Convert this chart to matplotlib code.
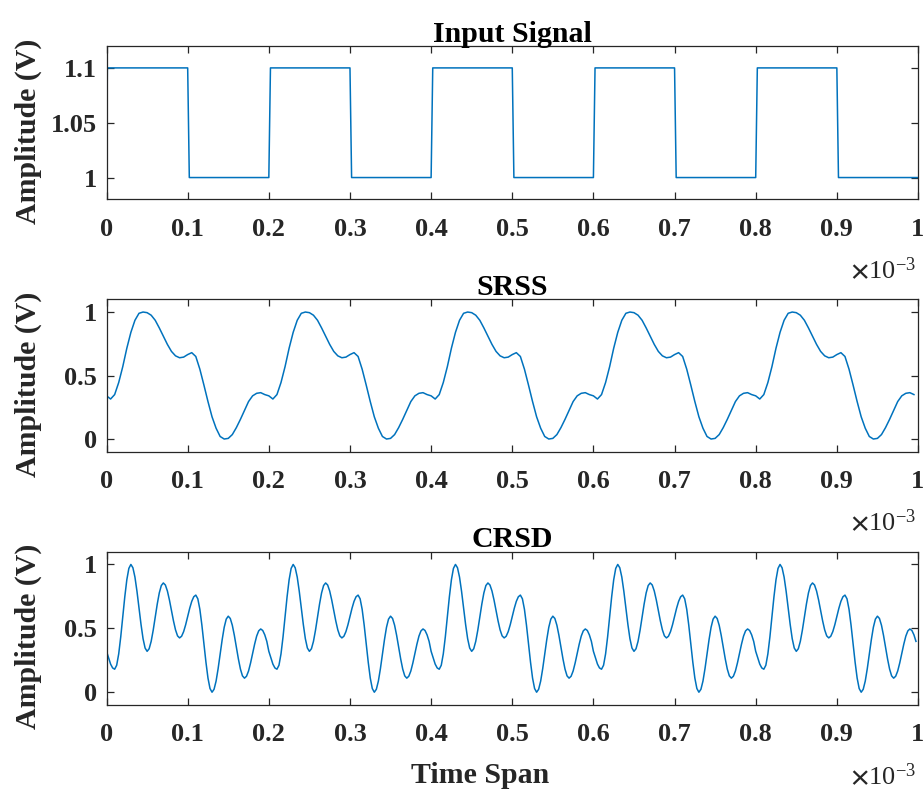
import numpy as np
import matplotlib
matplotlib.use("Agg")
import matplotlib.pyplot as plt

# ==========================================================
# DATA  (time in units of 1e-3 s)
# ==========================================================

# input square wave, corner points
sq_t = [0.0, 0.001, 0.1, 0.102, 0.2, 0.202, 0.3, 0.302, 0.4, 0.402,
        0.5, 0.502, 0.6, 0.602, 0.7, 0.702, 0.8, 0.802, 0.9, 0.902, 1.0]
sq_v = [1.0, 1.1, 1.1, 1.0, 1.0, 1.1, 1.1, 1.0, 1.0, 1.1,
        1.1, 1.0, 1.0, 1.1, 1.1, 1.0, 1.0, 1.1, 1.1, 1.0, 1.0]

# SRSS, one 0.2 period read every 0.005
srss_period = [0.34, 0.315, 0.35, 0.445, 0.57, 0.715, 0.84, 0.935, 0.99, 1.0,
               0.995, 0.975, 0.935, 0.875, 0.81, 0.745, 0.69, 0.655, 0.64, 0.645,
               0.665, 0.68, 0.65, 0.55, 0.425, 0.295, 0.175, 0.085, 0.02, 0.0,
               0.005, 0.035, 0.09, 0.155, 0.225, 0.295, 0.34, 0.36, 0.365, 0.35]

# CRSD, one 0.2 period read every 0.0025
crsd_period = [0.32, 0.27, 0.22, 0.19, 0.18, 0.211, 0.30, 0.433, 0.59, 0.747,
               0.88, 0.969, 1.0, 0.974, 0.901, 0.79, 0.66, 0.53, 0.419, 0.346,
               0.32, 0.34, 0.398, 0.485, 0.588, 0.69, 0.777, 0.835, 0.855, 0.839,
               0.792, 0.722, 0.64, 0.558, 0.488, 0.441, 0.425, 0.438, 0.474, 0.528,
               0.593, 0.657, 0.711, 0.747, 0.76, 0.731, 0.649, 0.525, 0.38, 0.235,
               0.111, 0.029, 0.0, 0.023, 0.087, 0.184, 0.2975, 0.411, 0.508, 0.572,
               0.595, 0.577, 0.524, 0.445, 0.3525, 0.26, 0.181, 0.128, 0.11, 0.125,
               0.166, 0.229, 0.3025, 0.376, 0.439, 0.48, 0.495, 0.483, 0.449, 0.398]

N_PERIODS = 5

srss_v = np.tile(srss_period, N_PERIODS)
srss_t = np.arange(len(srss_v)) * 0.005

crsd_v = np.tile(crsd_period, N_PERIODS)
crsd_t = np.arange(len(crsd_v)) * 0.0025

titles = ["Input Signal", "SRSS", "CRSD"]
x_ticks = [0, 0.1, 0.2, 0.3, 0.4, 0.5, 0.6, 0.7, 0.8, 0.9, 1]
x_ticklabels = ["0", "0.1", "0.2", "0.3", "0.4", "0.5", "0.6", "0.7", "0.8", "0.9", "1"]

# ==========================================================
# STYLE
# ==========================================================

plt.rcParams["font.family"] = ["Liberation Serif", "DejaVu Serif"]
plt.rcParams["mathtext.fontset"] = "stix"
plt.rcParams["font.weight"] = "bold"

LINE_COLOR = "#0072BD"
AX_COLOR = "#262626"

fig = plt.figure(figsize=(9.24, 7.9), dpi=100)

rects = [
    [0.1153, 0.7475, 0.8782, 0.1943],
    [0.1153, 0.4282, 0.8782, 0.1929],
    [0.1153, 0.1076, 0.8782, 0.1941],
]

axes = [fig.add_axes(r) for r in rects]

axes[0].plot(sq_t, sq_v, color=LINE_COLOR, linewidth=1.1)
axes[1].plot(srss_t, srss_v, color=LINE_COLOR, linewidth=1.1)
axes[2].plot(crsd_t, crsd_v, color=LINE_COLOR, linewidth=1.1)

# ==========================================================
# SETTINGS
# ==========================================================

for i, ax in enumerate(axes):

    ax.set_xlim(0, 1)
    ax.set_xticks(x_ticks)
    ax.set_xticklabels(x_ticklabels)

    if i == 0:
        ax.set_ylim(0.98, 1.12)
        ax.set_yticks([1, 1.05, 1.1])
        ax.set_yticklabels(["1", "1.05", "1.1"])
    else:
        ax.set_ylim(-0.1, 1.1)
        ax.set_yticks([0, 0.5, 1])
        ax.set_yticklabels(["0", "0.5", "1"])

    ax.tick_params(
        direction="in",
        length=5,
        width=0.9,
        color=AX_COLOR,
        top=True,
        right=True,
        labelsize=19,
        labelcolor="#262626",
    )
    ax.tick_params(axis="x", pad=13)
    ax.tick_params(axis="y", pad=7)

    for s in ax.spines.values():
        s.set_color(AX_COLOR)
        s.set_linewidth(0.9)

    ax.set_title(titles[i], fontsize=21.5, fontweight="bold", pad=3)

    ax.set_ylabel("Amplitude (V)", fontsize=21.5, fontweight="bold", color="#262626")
    ax.yaxis.set_label_coords(-0.0795, 0.445)

    ax.text(
        0.998, -0.52,
        r"$\times\mathregular{10^{-3}}$",
        transform=ax.transAxes,
        ha="right",
        va="baseline",
        fontsize=19,
        fontweight="normal",
        color="#262626",
    )

fig.text(
    480 / 924, 7 / 790,
    "Time Span",
    ha="center",
    va="baseline",
    fontsize=21.5,
    fontweight="bold",
    color="#262626",
)

# ==========================================================
# SAVE
# ==========================================================

plt.savefig("out.png", dpi=100)
